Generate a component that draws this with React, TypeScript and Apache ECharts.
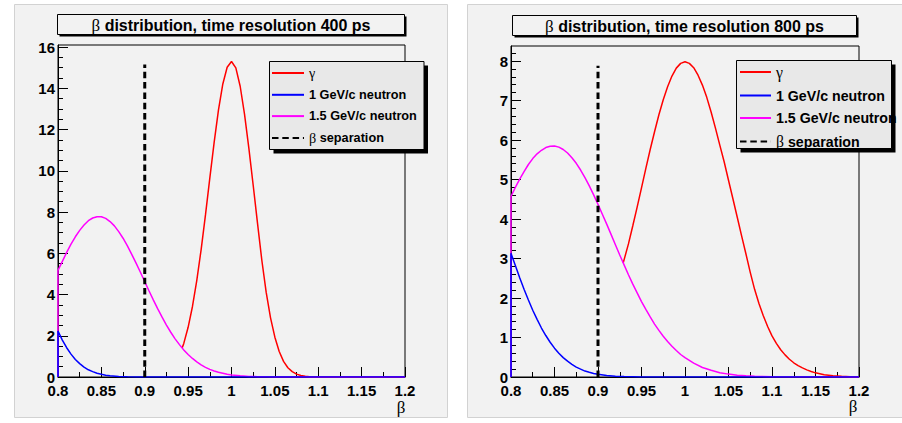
import React, { useEffect, useRef } from "react";
import * as echarts from "echarts";

// ---------- 400 ps panel ----------
const gammaBeta400 = [0.943, 0.945, 0.95, 0.955, 0.96, 0.965, 0.97, 0.975, 0.98, 0.985, 0.99, 0.995, 1.0, 1.005, 1.01, 1.015, 1.02, 1.025, 1.03, 1.035, 1.04, 1.045, 1.05, 1.055, 1.06, 1.065, 1.07, 1.075, 1.08, 1.085, 1.09, 1.1, 1.2];
const gamma400 = [1.4, 1.63, 2.41, 3.42, 4.69, 6.18, 7.86, 9.64, 11.38, 12.95, 14.21, 15.02, 15.3, 14.99, 14.1, 12.75, 11.1, 9.3, 7.45, 5.65, 4.1, 2.87, 1.93, 1.24, 0.76, 0.45, 0.26, 0.14, 0.074, 0.037, 0.018, 0.004, 0];

const n15Beta400 = [0.8, 0.8, 0.805, 0.81, 0.815, 0.82, 0.825, 0.83, 0.835, 0.84, 0.845, 0.85, 0.855, 0.86, 0.865, 0.87, 0.875, 0.88, 0.885, 0.89, 0.895, 0.9, 0.905, 0.91, 0.915, 0.92, 0.925, 0.93, 0.935, 0.94, 0.945, 0.95, 0.955, 0.96, 0.965, 0.97, 0.975, 0.98, 0.985, 0.99, 0.995, 1.0, 1.01, 1.02, 1.03, 1.04, 1.05, 1.2];
const n15_400 = [0, 5.17, 5.61, 6.04, 6.44, 6.8, 7.11, 7.37, 7.58, 7.71, 7.77, 7.77, 7.69, 7.54, 7.33, 7.05, 6.73, 6.36, 5.95, 5.52, 5.08, 4.62, 4.17, 3.73, 3.3, 2.9, 2.52, 2.17, 1.85, 1.57, 1.31, 1.09, 0.9, 0.73, 0.59, 0.47, 0.37, 0.29, 0.23, 0.18, 0.13, 0.1, 0.057, 0.03, 0.016, 0.008, 0.004, 0];

const n1Beta400 = [0.8, 0.8, 0.805, 0.81, 0.815, 0.82, 0.825, 0.83, 0.835, 0.84, 0.845, 0.85, 0.855, 0.86, 0.87, 0.88, 0.89, 0.9, 1.2];
const n1_400 = [0, 2.23, 1.79, 1.42, 1.11, 0.85, 0.65, 0.48, 0.35, 0.26, 0.18, 0.13, 0.089, 0.061, 0.027, 0.011, 0.004, 0.0015, 0];

const sepBeta400 = [0.9, 0.9];
const sep400 = [0, 15.15];

// ---------- 800 ps panel ----------
const gammaBeta800 = [0.929, 0.935, 0.94, 0.945, 0.95, 0.955, 0.96, 0.965, 0.97, 0.975, 0.98, 0.985, 0.99, 0.995, 1.0, 1.005, 1.01, 1.015, 1.02, 1.025, 1.03, 1.035, 1.04, 1.045, 1.05, 1.055, 1.06, 1.065, 1.07, 1.075, 1.08, 1.085, 1.09, 1.095, 1.1, 1.105, 1.11, 1.115, 1.12, 1.125, 1.13, 1.135, 1.14, 1.145, 1.15, 1.16, 1.17, 1.18, 1.19, 1.2];
const gamma800 = [2.89, 3.37, 3.83, 4.3, 4.79, 5.28, 5.76, 6.21, 6.64, 7.02, 7.35, 7.62, 7.82, 7.94, 7.98, 7.94, 7.83, 7.64, 7.39, 7.08, 6.71, 6.3, 5.87, 5.45, 4.98, 4.52, 4.05, 3.58, 3.12, 2.65, 2.22, 1.86, 1.55, 1.28, 1.04, 0.85, 0.69, 0.56, 0.45, 0.36, 0.29, 0.23, 0.18, 0.14, 0.105, 0.058, 0.031, 0.016, 0.008, 0.004];

const n15Beta800 = [0.8, 0.8, 0.805, 0.81, 0.815, 0.82, 0.825, 0.83, 0.835, 0.84, 0.845, 0.85, 0.855, 0.86, 0.865, 0.87, 0.875, 0.88, 0.885, 0.89, 0.895, 0.9, 0.905, 0.91, 0.915, 0.92, 0.925, 0.93, 0.935, 0.94, 0.945, 0.95, 0.955, 0.96, 0.965, 0.97, 0.975, 0.98, 0.985, 0.99, 0.995, 1.0, 1.01, 1.02, 1.03, 1.04, 1.05, 1.06, 1.07, 1.08, 1.1, 1.2];
const n15_800 = [0, 4.57, 4.8, 5.01, 5.2, 5.38, 5.53, 5.65, 5.74, 5.81, 5.84, 5.85, 5.82, 5.76, 5.67, 5.55, 5.41, 5.24, 5.05, 4.84, 4.61, 4.37, 4.12, 3.87, 3.61, 3.35, 3.09, 2.84, 2.59, 2.35, 2.13, 1.91, 1.71, 1.52, 1.34, 1.18, 1.03, 0.9, 0.78, 0.67, 0.57, 0.49, 0.35, 0.24, 0.17, 0.11, 0.073, 0.047, 0.029, 0.018, 0.007, 0];

const n1Beta800 = [0.8, 0.8, 0.805, 0.81, 0.815, 0.82, 0.825, 0.83, 0.835, 0.84, 0.845, 0.85, 0.855, 0.86, 0.865, 0.87, 0.875, 0.88, 0.885, 0.89, 0.895, 0.9, 0.91, 0.92, 0.93, 0.95, 1.2];
const n1_800 = [0, 3.13, 2.82, 2.51, 2.22, 1.95, 1.69, 1.46, 1.24, 1.05, 0.88, 0.73, 0.6, 0.49, 0.4, 0.32, 0.25, 0.2, 0.15, 0.12, 0.091, 0.069, 0.038, 0.021, 0.011, 0.003, 0];

const sepBeta800 = [0.9, 0.9];
const sep800 = [0, 7.88];

// ---------- axes / labels ----------
const yMajor400 = [0, 2, 4, 6, 8, 10, 12, 14, 16];
const yMajor800 = [0, 1, 2, 3, 4, 5, 6, 7, 8];
const seriesNames = ["γ", "1 GeV/c neutron", "1.5 GeV/c neutron", "β separation"];
const titles = ["distribution, time resolution 400 ps", "distribution, time resolution 800 ps"];

const SANS = "Liberation Sans";
const SERIF = "Liberation Serif";

function pairs(xs: number[], ys: number[]) {
  return xs.map((x, i) => [x, ys[i]]);
}

function minorValues(step: number, max: number) {
  const out: number[] = [];
  for (let v = step; v <= max + 1e-9; v += step) out.push(Math.round(v * 1000) / 1000);
  return out;
}

export default function App() {
  const ref = useRef<HTMLDivElement>(null);
  useEffect(() => {
    document.body.style.margin = "0";
    const chart = echarts.init(ref.current!, null, { renderer: "svg" });

    const panels = [
      {
        grid: { left: 58, top: 45, width: 347, height: 332 },
        yMax: 16.1, majors: yMajor400, minors: minorValues(0.5, 16.1),
        gamma: pairs(gammaBeta400, gamma400), n1: pairs(n1Beta400, n1_400),
        n15: pairs(n15Beta400, n15_400), sep: pairs(sepBeta400, sep400),
        legend: { left: 271, top: 66, itemWidth: 32, fontSize: 12.7, itemGap: 8.3 },
        legendBox: { x: 269.5, y: 61.5, w: 154.5, h: 88 },
        titleBox: { x: 57.5, y: 14.5, w: 347, h: 20 },
        panel: { x: 14.5, y: 4.5, w: 433, h: 413 },
        betaPos: { x: 401, y: 407 },
      },
      {
        grid: { left: 511, top: 46, width: 348, height: 331 },
        yMax: 8.38, majors: yMajor800, minors: minorValues(0.2, 8.38),
        gamma: pairs(gammaBeta800, gamma800), n1: pairs(n1Beta800, n1_800),
        n15: pairs(n15Beta800, n15_800), sep: pairs(sepBeta800, sep800),
        legend: { left: 739, top: 64, itemWidth: 31, fontSize: 14.2, itemGap: 8.5 },
        legendBox: { x: 736.5, y: 60.5, w: 155, h: 88 },
        titleBox: { x: 512.5, y: 15.5, w: 344, h: 20 },
        panel: { x: 467.5, y: 4.5, w: 440, h: 413 },
        betaPos: { x: 853, y: 406 },
      },
    ];

    const grid: any[] = [];
    const xAxis: any[] = [];
    const yAxis: any[] = [];
    const series: any[] = [];
    const legend: any[] = [];
    const graphic: any[] = [];

    panels.forEach((p, i) => {
      grid.push({ ...p.grid, show: true, borderColor: "#000", borderWidth: 1, backgroundColor: "transparent" });
      xAxis.push({
        type: "value", gridIndex: i, min: 0.8, max: 1.2, interval: 0.05,
        axisLine: { onZero: false, lineStyle: { color: "#000", width: 1 } },
        axisTick: { inside: true, length: 10, lineStyle: { color: "#000" } },
        minorTick: { show: true, splitNumber: 2, length: 5, lineStyle: { color: "#000" } },
        splitLine: { show: false },
        axisLabel: {
          margin: 6, color: "#000", fontFamily: SANS, fontWeight: "bold", fontSize: 15,
          formatter: (v: number) => String(parseFloat(v.toFixed(3))),
        },
      });
      yAxis.push({
        type: "value", gridIndex: i, min: 0, max: p.yMax, position: "left",
        axisLine: { show: true, onZero: false, lineStyle: { color: "#000", width: 1 } },
        axisTick: { inside: true, length: 10, customValues: p.majors, lineStyle: { color: "#000" } },
        splitLine: { show: false },
        axisLabel: {
          margin: 3, color: "#000", fontFamily: SANS, fontWeight: "bold", fontSize: 15,
          customValues: p.majors, formatter: (v: number) => String(v),
        },
      });
    });
    panels.forEach((p, i) => {
      yAxis.push({
        type: "value", gridIndex: i, min: 0, max: p.yMax, position: "left", offset: 0,
        axisLine: { show: false },
        axisTick: { show: true, inside: true, length: 5, customValues: p.minors, lineStyle: { color: "#000" } },
        axisLabel: { show: false },
        splitLine: { show: false },
      });
    });

    panels.forEach((p, i) => {
      const base = { type: "line", xAxisIndex: i, yAxisIndex: i, symbol: "none", showSymbol: false, silent: true, animation: false };
      series.push({ ...base, name: seriesNames[0], data: p.gamma, lineStyle: { color: "#ff0000", width: 1.5 }, itemStyle: { color: "#ff0000" } });
      series.push({ ...base, name: seriesNames[2], data: p.n15, lineStyle: { color: "#ff00ff", width: 1.5 }, itemStyle: { color: "#ff00ff" } });
      series.push({ ...base, name: seriesNames[1], data: p.n1, lineStyle: { color: "#0000ff", width: 1.5 }, itemStyle: { color: "#0000ff" } });
      series.push({ ...base, name: seriesNames[3], data: p.sep, lineStyle: { color: "#000", width: 3, type: [6.5, 3.8] }, itemStyle: { color: "#000" } });

      legend.push({
        data: seriesNames, orient: "vertical", left: p.legend.left, top: p.legend.top,
        itemWidth: p.legend.itemWidth, itemHeight: 14, itemGap: p.legend.itemGap, padding: 0,
        selectedMode: false, z: 5,
        itemStyle: { opacity: 0, borderWidth: 0 },
        formatter: (name: string) => (name === "γ" ? "{g|γ}" : name === "β separation" ? "{g|β} separation" : name),
        textStyle: {
          color: "#000", fontFamily: SANS, fontWeight: "bold", fontSize: p.legend.fontSize,
          rich: { g: { fontFamily: SERIF, fontWeight: "normal", fontSize: p.legend.fontSize + 1.5, color: "#000" } },
        },
      });

      // pad
      graphic.push({ type: "rect", z: -10, shape: { x: p.panel.x, y: p.panel.y, width: p.panel.w, height: p.panel.h }, style: { fill: "#f2f2f2", stroke: "#d2d2d2", lineWidth: 1 } });
      // title box + shadow
      const tb = p.titleBox;
      graphic.push({ type: "rect", z: 3, shape: { x: tb.x + 2, y: tb.y + 2, width: tb.w, height: tb.h }, style: { fill: "#000" } });
      graphic.push({ type: "rect", z: 3, shape: { x: tb.x, y: tb.y, width: tb.w, height: tb.h }, style: { fill: "#f2f2f2", stroke: "#000", lineWidth: 1 } });
      graphic.push({
        type: "text", z: 4,
        style: {
          x: tb.x + tb.w / 2, y: tb.y + tb.h / 2 + 0.5, align: "center", verticalAlign: "middle",
          textAlign: "center", textVerticalAlign: "middle",
          text: "{g|β} " + titles[i], fill: "#000",
          fontFamily: SANS, fontWeight: "bold", fontSize: 16,
          rich: { g: { fontFamily: SERIF, fontWeight: "normal", fontSize: 17, fill: "#000" } },
        },
      });
      // legend box + shadow
      const lb = p.legendBox;
      graphic.push({ type: "rect", z: 3, shape: { x: lb.x + 4, y: lb.y + 4, width: lb.w, height: lb.h }, style: { fill: "#000" } });
      graphic.push({ type: "rect", z: 3, shape: { x: lb.x, y: lb.y, width: lb.w, height: lb.h }, style: { fill: "#e8e8e8", stroke: "#000", lineWidth: 1 } });
      // x axis title
      graphic.push({
        type: "text", z: 4,
        style: { x: p.betaPos.x, y: p.betaPos.y, align: "center", verticalAlign: "middle", textAlign: "center", textVerticalAlign: "middle", text: "β", fill: "#000", fontFamily: SERIF, fontSize: 17 },
      });
    });

    chart.setOption({
      animation: false,
      backgroundColor: "#ffffff",
      grid, xAxis, yAxis, series, legend, graphic,
    });
    return () => chart.dispose();
  }, []);
  return <div ref={ref} style={{ position: "fixed", left: 0, top: 0, width: 902, height: 423 }} />;
}
